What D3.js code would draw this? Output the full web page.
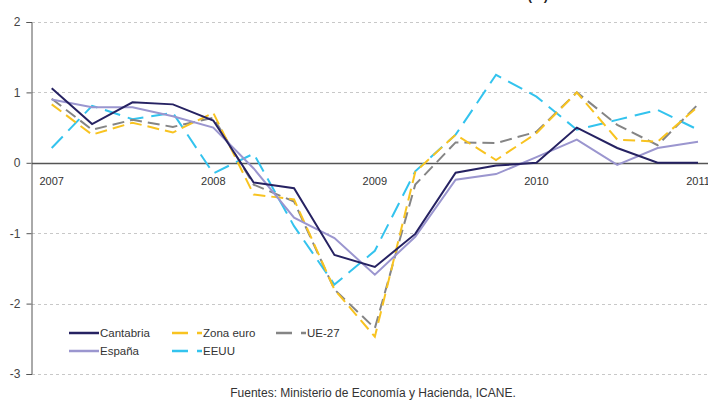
<!DOCTYPE html>
<html><head><meta charset="utf-8">
<script src="https://cdn.jsdelivr.net/npm/d3@7/dist/d3.min.js"></script>
<style>body{margin:0;background:#fff}svg{display:block}text{font-family:"Liberation Sans",Arial,sans-serif}</style>
</head><body><svg id="c" width="708" height="403"></svg>
<script>
const quarters = ["2007T1","2007T2","2007T3","2007T4","2008T1","2008T2","2008T3","2008T4","2009T1","2009T2","2009T3","2009T4","2010T1","2010T2","2010T3","2010T4","2011T1"];
const yearLabels = ["2007","2008","2009","2010","2011"];
const yTicks = [-3,-2,-1,0,1,2];
const cantabria = [1.06,0.55,0.86,0.83,0.6,-0.28,-0.36,-1.31,-1.48,-1.01,-0.14,-0.04,0.0,0.5,0.21,0.0,0.0];
const espana    = [0.9,0.79,0.79,0.66,0.5,-0.08,-0.78,-1.07,-1.59,-1.05,-0.24,-0.16,0.08,0.33,-0.03,0.21,0.3];
const zonaEuro  = [0.83,0.4,0.57,0.43,0.71,-0.45,-0.52,-1.8,-2.47,-0.13,0.4,0.04,0.42,1.0,0.33,0.3,0.8];
const ue27      = [0.91,0.47,0.61,0.51,0.64,-0.31,-0.55,-1.8,-2.35,-0.31,0.29,0.28,0.44,1.0,0.54,0.25,0.83];
const eeuu      = [0.21,0.81,0.62,0.71,-0.15,0.13,-0.9,-1.73,-1.25,-0.12,0.4,1.25,0.94,0.47,0.61,0.75,0.47];
const seriesNames = ["Cantabria","España","Zona euro","UE-27","EEUU"];

const series = [
  {name:"Cantabria", values:cantabria, color:"#262262", dash:null},
  {name:"España", values:espana, color:"#9b96cf", dash:null},
  {name:"Zona euro", values:zonaEuro, color:"#f8c320", dash:"12,6"},
  {name:"UE-27", values:ue27, color:"#858585", dash:"12,6"},
  {name:"EEUU", values:eeuu, color:"#33c3ee", dash:"16,8"}
];

const svg = d3.select("#c");
const x = d3.scalePoint().domain(quarters).range([51.7, 698]);
const y = d3.scaleLinear().domain([-3,2]).range([374,22]);

// grid
svg.append("g").selectAll("line").data(yTicks.filter(d=>d!==0)).join("line")
  .attr("x1",32).attr("x2",708).attr("y1",d=>Math.round(y(d))+0.5).attr("y2",d=>Math.round(y(d))+0.5)
  .attr("stroke","#c8c8c8").attr("stroke-dasharray","3,3").attr("stroke-width",1);

// y axis
const yAxis = d3.axisLeft(y).tickValues(yTicks).tickSize(5).tickPadding(6).tickFormat(d=>String(d));
const gy = svg.append("g").attr("transform","translate(31.5,0)").call(yAxis);
gy.select(".domain").attr("stroke","#555");
gy.selectAll(".tick line").attr("stroke","#555");
gy.selectAll("text").attr("font-size",12).attr("fill","#444").attr("font-family","Liberation Sans, Arial, sans-serif");

// zero line
svg.append("line").attr("x1",32).attr("x2",708).attr("y1",Math.round(y(0))+0.5).attr("y2",Math.round(y(0))+0.5)
  .attr("stroke","#555").attr("stroke-width",1.3);

// year labels
svg.append("g").selectAll("text").data(yearLabels).join("text")
  .attr("x",d=>x(d+"T1")).attr("y",y(0)+22).attr("text-anchor","middle")
  .attr("font-size",11).attr("fill","#333").text(d=>d);

// lines
const line = d3.line().x((d,i)=>x(quarters[i])).y(d=>y(d));
svg.append("g").selectAll("path").data(series.slice().reverse()).join("path")
  .attr("d",d=>line(d.values)).attr("fill","none").attr("stroke",d=>d.color)
  .attr("stroke-width",2).attr("stroke-dasharray",d=>d.dash).attr("stroke-linejoin","miter");

// legend
const legPos = {"Cantabria":[69,333],"Zona euro":[172,333],"UE-27":[276,333],"España":[69,351],"EEUU":[172,351]};
const lg = svg.append("g").selectAll("g").data(series).join("g")
  .attr("transform",d=>`translate(${legPos[d.name][0]},${legPos[d.name][1]})`);
lg.append("line").attr("x1",0).attr("x2",30).attr("y1",0).attr("y2",0)
  .attr("stroke",d=>d.color).attr("stroke-width",2.5).attr("stroke-dasharray",d=>d.dash?"16,9":null);
lg.append("text").attr("x",31).attr("y",4).attr("font-size",11.5).attr("fill","#333").text(d=>d.name);

// title fragment and source
svg.append("text").attr("x",548).attr("y",0).attr("text-anchor","end").attr("font-size",13)
  .attr("font-weight","bold").attr("fill","#222").text("(%)");
svg.append("text").attr("x",373).attr("y",397).attr("text-anchor","middle").attr("font-size",12)
  .attr("fill","#333").text("Fuentes:  Ministerio de Economía y Hacienda, ICANE.");
</script></body></html>
